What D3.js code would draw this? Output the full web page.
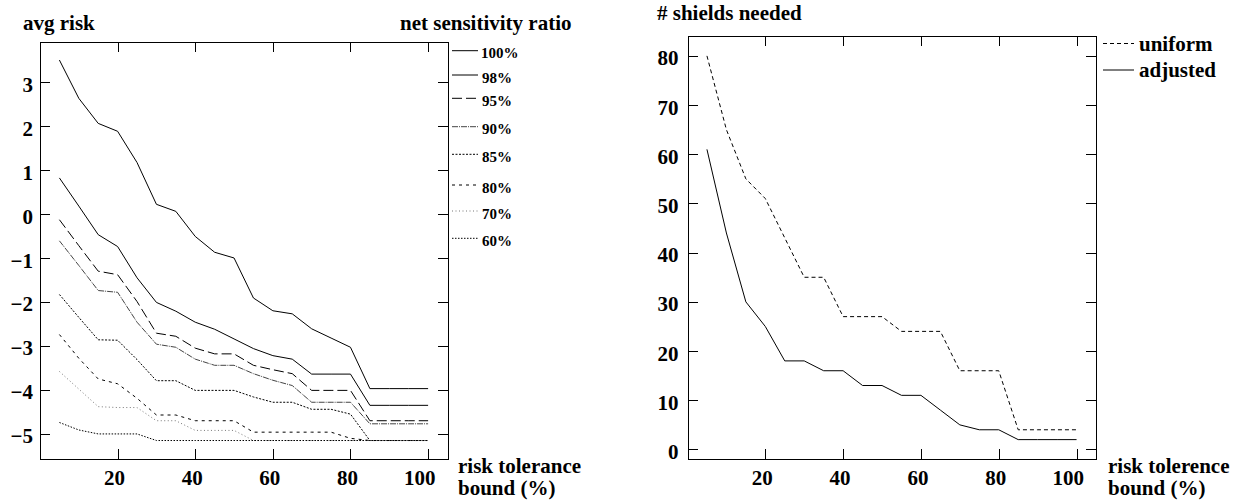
<!DOCTYPE html>
<html>
<head>
<meta charset="utf-8">
<script src="https://cdn.jsdelivr.net/npm/d3@7"></script>
<style>
  html, body { margin: 0; padding: 0; background: #fff; }
  svg { display: block; }
  text { font-family: "Liberation Serif", "Times New Roman", serif; font-weight: bold; fill: #000; }
</style>
</head>
<body>
<svg id="chart" width="1239" height="502" font-family="Liberation Serif, Times New Roman, serif"></svg>
<script>
// ---------- data ----------
const tolerance = [5,10,15,20,25,30,35,40,45,50,55,60,65,70,75,80,85,90,95,100];

const ratioLabels = ["100%","98%","95%","90%","85%","80%","70%","60%"];
const risk100 = [3.50,2.63,2.06,1.88,1.17,0.22,0.06,-0.51,-0.87,-1.00,-1.91,-2.20,-2.27,-2.61,-2.82,-3.03,-3.97,-3.97,-3.97,-3.97];
const risk98  = [0.82,0.18,-0.47,-0.74,-1.45,-2.01,-2.21,-2.46,-2.62,-2.84,-3.06,-3.22,-3.30,-3.64,-3.64,-3.64,-4.35,-4.35,-4.35,-4.35];
const risk95  = [-0.13,-0.72,-1.30,-1.38,-1.99,-2.71,-2.78,-3.05,-3.18,-3.18,-3.44,-3.54,-3.63,-4.01,-4.01,-4.01,-4.70,-4.70,-4.70,-4.70];
const risk90  = [-0.61,-1.17,-1.74,-1.78,-2.46,-2.96,-3.03,-3.30,-3.44,-3.44,-3.63,-3.78,-3.90,-4.28,-4.28,-4.28,-4.77,-4.77,-4.77,-4.77];
const risk85  = [-1.83,-2.35,-2.86,-2.87,-3.31,-3.79,-3.79,-4.01,-4.01,-4.01,-4.16,-4.28,-4.28,-4.44,-4.44,-4.55,-5.15,-5.15,-5.15,-5.15];
const risk80  = [-2.74,-3.28,-3.75,-3.86,-4.19,-4.57,-4.57,-4.70,-4.70,-4.70,-4.96,-4.96,-4.96,-4.96,-4.96,-5.10,-5.15,-5.15,-5.15,-5.15];
const risk70  = [-3.58,-3.98,-4.38,-4.40,-4.40,-4.70,-4.70,-4.92,-4.92,-4.92,-5.15,-5.15,-5.15,-5.15,-5.15,-5.15,-5.15,-5.15,-5.15,-5.15];
const risk60  = [-4.74,-4.91,-5.00,-5.00,-5.00,-5.15,-5.15,-5.15,-5.15,-5.15,-5.15,-5.15,-5.15,-5.15,-5.15,-5.15,-5.15,-5.15,-5.15,-5.15];
const riskSeries = [risk100, risk98, risk95, risk90, risk85, risk80, risk70, risk60];

const shieldLabels = ["uniform","adjusted"];
const shieldsUniform  = [80,65,55,51,43,35,35,27,27,27,24,24,24,16,16,16,4,4,4,4];
const shieldsAdjusted = [61,44,30,25,18,18,16,16,13,13,11,11,8,5,4,4,2,2,2,2];
const shieldSeries = [shieldsUniform, shieldsAdjusted];

const xTicks = [20,40,60,80,100];
const riskYTicks = [-5,-4,-3,-2,-1,0,1,2,3];
const shieldYTicks = [0,10,20,30,40,50,60,70,80];

// ---------- styles ----------
const riskDash = [null, null, "10,4", "6,1,1,1", "2,1.5", "3,4", "1,2.5", "1.5,1.5"];
const riskColor = ["#000","#000","#000","#444","#000","#000","#777","#000"];
const riskLegendY = [50.7, 75, 98.3, 126.7, 154.3, 185, 211, 238.3];
const shieldDash = ["4,3", null];

const svg = d3.select("#chart");
const FONT = "Liberation Serif, Times New Roman, serif";

function drawPanel(opt) {
  const g = svg.append("g");
  const x = opt.x, y = opt.y;
  const [x0, x1] = x.range();
  const [y0, y1] = y.range(); // y0 bottom, y1 top

  const ax = [
    { a: d3.axisBottom(x).tickValues(xTicks).tickSize(-10).tickSizeOuter(0).tickPadding(11), t: `translate(0,${y0})`, kind: "b" },
    { a: d3.axisTop(x).tickValues(xTicks).tickSize(-10).tickSizeOuter(0).tickFormat(""), t: `translate(0,${y1})` },
    { a: d3.axisLeft(y).tickValues(opt.yTicks).tickSize(-10).tickSizeOuter(0).tickPadding(opt.yPad), t: `translate(${x0},0)`, kind: "l" },
    { a: d3.axisRight(y).tickValues(opt.yTicks).tickSize(-10).tickSizeOuter(0).tickFormat(""), t: `translate(${x1},0)` }
  ];
  ax.forEach(d => {
    const s = g.append("g").attr("transform", d.t).call(d.a).attr("font-family", FONT);
    s.select(".domain").remove();
    s.selectAll("line").attr("stroke", "#000").attr("stroke-width", 1).attr("shape-rendering", "crispEdges");
    s.selectAll("text").attr("font-size", 21).attr("font-family", FONT).attr("font-weight", "bold").attr("fill", "#000");
    if (d.kind === "b") s.selectAll("text").attr("text-anchor", "end").attr("dx", 7);
    if (d.kind === "l") s.selectAll("text").attr("dy", "0.43em");
  });

  g.append("rect")
    .attr("x", Math.round(x0) + 0.5).attr("y", Math.round(y1) + 0.5)
    .attr("width", Math.round(x1) - Math.round(x0)).attr("height", Math.round(y0) - Math.round(y1))
    .attr("fill", "none").attr("stroke", "#000").attr("stroke-width", 1).attr("shape-rendering", "crispEdges");

  const line = d3.line().x((d, i) => x(tolerance[i])).y(d => y(d));
  opt.series.forEach((s, i) => {
    g.append("path").datum(s).attr("d", line)
      .attr("fill", "none").attr("stroke", opt.colors[i]).attr("stroke-width", 1)
      .attr("stroke-dasharray", opt.dash[i]);
  });
  return g;
}

function label(x, y, size, txt) {
  svg.append("text").attr("x", x).attr("y", y).attr("font-size", size)
    .attr("font-family", FONT).attr("font-weight", "bold").text(txt);
}

// ---------- left panel ----------
const xL = d3.scaleLinear().domain([0, 105]).range([40, 447.5]);
const yL = d3.scaleLinear().domain([-5.57, 3.91]).range([459, 42]);
drawPanel({ x: xL, y: yL, yTicks: riskYTicks, yPad: 7, series: riskSeries, dash: riskDash, colors: riskColor });

label(23, 30, 21, "avg risk");
label(400, 30, 21, "net sensitivity ratio");
label(458, 473, 21, "risk tolerance");
label(458, 495, 21, "bound (%)");

ratioLabels.forEach((lab, i) => {
  const ly = riskLegendY[i];
  svg.append("line").attr("x1", 452).attr("x2", 478).attr("y1", ly).attr("y2", ly)
    .attr("stroke", riskColor[i]).attr("stroke-width", 1).attr("stroke-dasharray", riskDash[i]);
  label(i === 0 ? 481 : 482, ly + 7.5, 15, lab);
});

// ---------- right panel ----------
const xR = d3.scaleLinear().domain([0, 105]).range([687.5, 1096]);
const yR = d3.scaleLinear().domain([-2, 84]).range([459.3, 36.2]);
drawPanel({ x: xR, y: yR, yTicks: shieldYTicks, yPad: 9, series: shieldSeries, dash: shieldDash, colors: ["#000", "#000"] });

label(657, 20, 21, "# shields needed");
label(1108, 473, 21, "risk tolerence");
label(1108, 495, 21, "bound (%)");

const shieldLegendY = [43.5, 70];
shieldLabels.forEach((lab, i) => {
  const ly = shieldLegendY[i];
  svg.append("line").attr("x1", 1103).attr("x2", 1134).attr("y1", ly).attr("y2", ly)
    .attr("stroke", "#000").attr("stroke-width", 1).attr("stroke-dasharray", shieldDash[i]);
  label(1139, ly + 7, 21, lab);
});
</script>
</body>
</html>
